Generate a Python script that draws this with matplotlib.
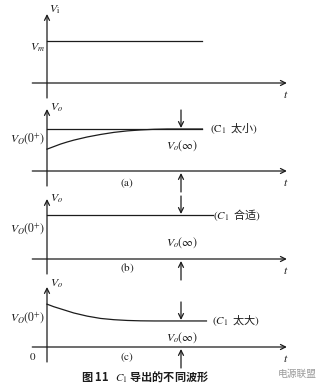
import matplotlib.pyplot as plt

plt.rcParams['font.family'] = ['Noto Sans CJK SC', 'DejaVu Sans']
plt.rcParams['mathtext.fontset'] = 'stix'

W, H = 326, 388

# time axis: t = 0 at the vertical axis, t_inf where the arrows point
t_inf = 10.0
t_axis = [-1.1, 17.9]

# input step V_i
vi_t = [0.0, 11.6]
vi_v = [1.0, 1.0]

# (a) C1 too small: output rises to V_o(inf)
a_t = [0.0, 0.5, 1.0, 1.5, 2.0, 3.0, 4.0, 5.0, 6.0, 7.0, 8.0, 9.0, 11.6]
a_v = [0.52, 0.58, 0.64, 0.69, 0.735, 0.81, 0.87, 0.92, 0.955, 0.978, 0.993, 1.0, 1.0]
a_ref_t = [0.0, 11.6]
a_ref_v = [1.0, 1.0]

# (b) C1 suitable: flat output
b_t = [0.0, 12.4]
b_v = [1.0, 1.0]

# (c) C1 too big: output decays to V_o(inf)
c_t = [0.0, 0.5, 1.0, 1.5, 2.0, 3.0, 4.0, 5.0, 6.0, 7.0, 8.0, 11.9]
c_v = [1.02, 0.96, 0.91, 0.86, 0.81, 0.735, 0.68, 0.65, 0.632, 0.623, 0.62, 0.62]

ink = '#1c1c1c'
px_per_t = 13.4

fig = plt.figure(figsize=(W / 100, H / 100), dpi=100)


def px(x, y):
    return x / W, 1 - y / H


def panel(top, bottom, y0, scale, tip):
    ax = fig.add_axes([0, 1 - bottom / H, 1, (bottom - top) / H])
    ax.set_xlim(-47 / px_per_t, (W - 47) / px_per_t)
    ax.set_ylim(-(bottom - y0) / scale, (y0 - top) / scale)
    ax.axis('off')
    arrow = dict(arrowstyle='->', lw=0.9, color=ink, shrinkA=0, shrinkB=0,
                 mutation_scale=9)
    # time axis
    ax.annotate('', xy=(t_axis[1], 0), xytext=(t_axis[0], 0), arrowprops=arrow)
    # voltage axis
    ax.annotate('', xy=(0, (y0 - tip) / scale), xytext=(0, -15 / scale),
                arrowprops=arrow)
    return ax, arrow


def markers(ax, arrow, level, scale):
    ax.annotate('', xy=(t_inf, level + 1 / scale), xytext=(t_inf, level + 19 / scale),
                arrowprops=arrow)
    ax.annotate('', xy=(t_inf, -2 / scale), xytext=(t_inf, -21 / scale),
                arrowprops=arrow)


fs = 8.5
fl = 8


def label(x, y, s, size=fs, ha='left', **kw):
    fig.text(*px(x, y), s, fontsize=size, va='center', ha=ha, color=ink, **kw)


# input
ax, arrow = panel(0, 100, 83, 42, 14)
ax.plot(vi_t, vi_v, color=ink, lw=0.9)
label(49, 9, r'$V_\mathrm{i}$')
label(45, 47, r'$V_m$', ha='right')
label(283, 95, r'$t$')

# (a)
ax, arrow = panel(100, 190, 171, 42, 109)
ax.plot(a_ref_t, a_ref_v, color=ink, lw=0.9)
ax.plot(a_t, a_v, color=ink, lw=0.9)
markers(ax, arrow, 1.0, 42)
label(50, 108, r'$V_o$')
label(45, 139, r'$V_O(0^{+})$', ha='right')
label(210, 129, r'$(\mathrm{C}_1$  太小$)$', size=fl)
label(182, 146, r'$V_o(\infty)$', ha='center')
label(127, 183, r'$\mathrm{(a)}$', size=fl, ha='center')
label(283, 183, r'$t$')

# (b)
ax, arrow = panel(190, 277, 259, 44, 199)
ax.plot(b_t, b_v, color=ink, lw=0.9)
markers(ax, arrow, 1.0, 44)
label(50, 199, r'$V_o$')
label(45, 229, r'$V_O(0^{+})$', ha='right')
label(213, 215, r'$(C_1$  合适$)$', size=fl)
label(182, 243, r'$V_o(\infty)$', ha='center')
label(127, 268, r'$\mathrm{(b)}$', size=fl, ha='center')
label(283, 270, r'$t$')

# (c)
ax, arrow = panel(277, 365, 347, 42, 287)
ax.plot(c_t, c_v, color=ink, lw=0.9)
markers(ax, arrow, c_v[-1], 42)
label(50, 283, r'$V_o$')
label(45, 318, r'$V_O(0^{+})$', ha='right')
label(212, 321, r'$(C_1$  太大$)$', size=fl)
label(182, 338, r'$V_o(\infty)$', ha='center')
label(33, 357, r'$\mathrm{0}$', size=fl, ha='center')
label(127, 357, r'$\mathrm{(c)}$', size=fl, ha='center')
label(283, 359, r'$t$')

# caption and watermark
label(145, 377, '图 11   $C_1$ 导出的不同波形', size=8, ha='center', fontweight='bold')
fig.text(*px(297, 374), '电源联盟', fontsize=7, va='center', ha='center',
         color='#9a9a9a')

fig.savefig('out.png', dpi=100, facecolor='white')
